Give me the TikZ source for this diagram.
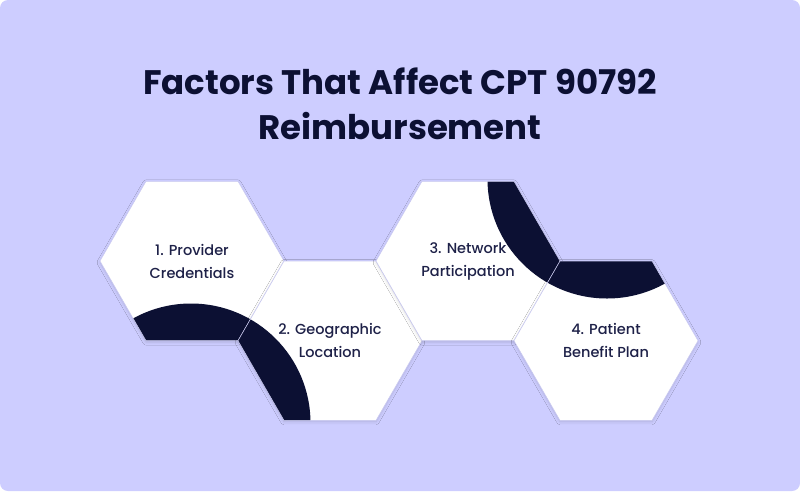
\documentclass[tikz,border=0pt]{standalone}
\usepackage{fontspec}
\setmainfont{Poppins}
\IfFontExistsTF{Poppins Medium}
  {\newfontfamily\hexfont{Poppins Medium}}
  {\newfontfamily\hexfont[FakeBold=2]{Poppins}}
\usetikzlibrary{shapes.geometric,shadows.blur}
\definecolor{bgpurple}{RGB}{205,205,255}
\definecolor{navyink}{RGB}{12,16,51}
\definecolor{textink}{RGB}{30,33,72}
\definecolor{hexedge}{RGB}{200,200,240}
\begin{document}
\begin{tikzpicture}[x=1pt,y=-1pt,
  hexbox/.style={regular polygon, regular polygon sides=6, minimum size=184pt,
    inner sep=0pt, outer sep=0pt, fill=white, draw=hexedge, line width=0.5pt,
    text=textink, align=center, font=\hexfont\fontsize{14.5}{23}\selectfont,
    blur shadow={shadow xshift=0pt, shadow yshift=-1.5pt,
      shadow blur radius=3pt, shadow blur steps=6, shadow opacity=14}},
  % dark disc, centred at the coordinate #1, cut to the hexagon
  darkband/.style={path picture={\fill [navyink] (#1) circle (119.5);}},
  titletext/.style={anchor=base, text=navyink, font=\bfseries\fontsize{34}{45}\selectfont}]
\useasboundingbox (0,0) rectangle (800,491);
\fill [bgpurple, rounded corners=8pt] (0,0) rectangle (800,491);
% title
\node [titletext] (titlea) at (400,94) {Factors That Affect CPT 90792};
\node [titletext] (titleb) at (400,139) {Reimbursement};
% centres of the two dark discs
\coordinate (ringA) at (191,423);
\coordinate (ringB) at (607,179);
% hexagons
\node [hexbox, darkband=ringA] (factorA) at (192,261) {1. Provider\\Credentials};
\node [hexbox, darkband=ringA] (factorB) at (330,340.7) {2. Geographic\\Location};
\node [hexbox, darkband=ringB] (factorC) at (468,261) {3. Network\\Participation};
\node [hexbox, darkband=ringB] (factorD) at (606,340.7) {4. Patient\\Benefit Plan};
\end{tikzpicture}
\end{document}
